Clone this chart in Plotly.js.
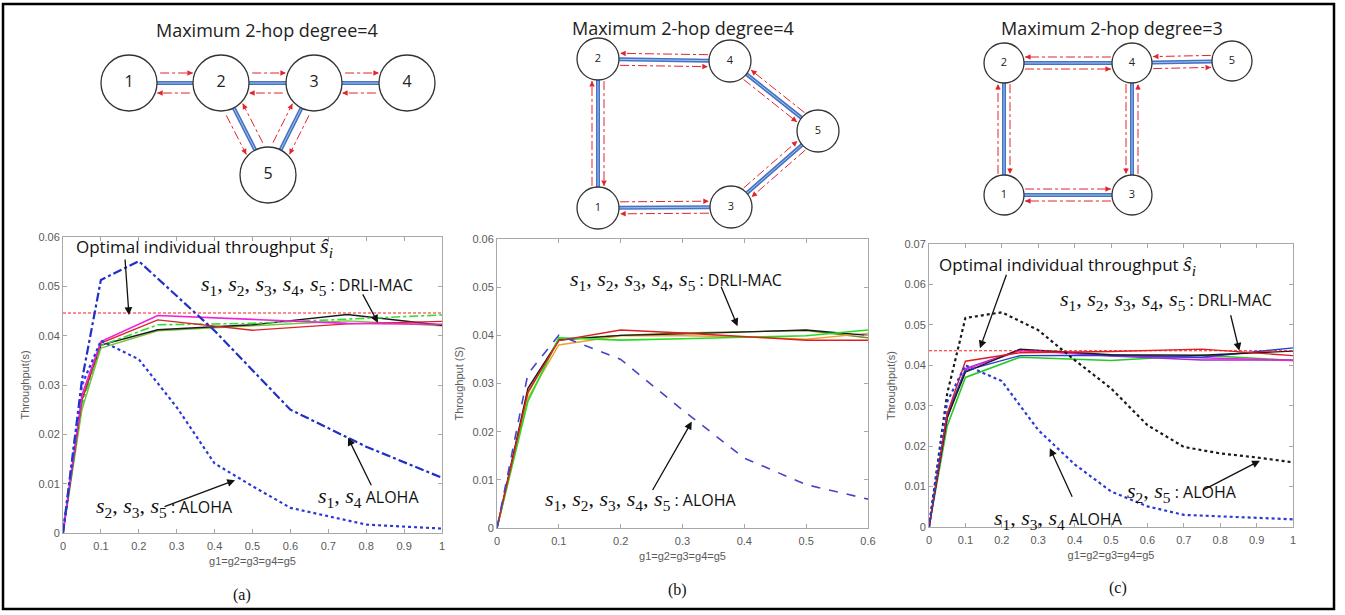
<!DOCTYPE html>
<html><head><meta charset="utf-8">
<script src="https://cdn.plot.ly/plotly-3.0.1.min.js"></script>
<style>html,body{margin:0;padding:0;background:#fff}</style>
</head><body><div id="chart" style="width:1345px;height:615px"></div>
<script>
// ================= DATA =================
// ---- Panel (a) ----
const a_alohaS14_x = [0, 0.05, 0.1, 0.2, 0.4, 0.6, 0.8, 1];
const a_alohaS14_y = [0, 0.031, 0.0513, 0.0551, 0.041, 0.025, 0.0175, 0.0112];
const a_alohaS235_x = [0, 0.05, 0.1, 0.2, 0.3, 0.4, 0.5, 0.6, 0.8, 1];
const a_alohaS235_y = [0, 0.030, 0.039, 0.0352, 0.0255, 0.0141, 0.0095, 0.0051, 0.0017, 0.0009];
const a_drli_x = [0, 0.05, 0.1, 0.25, 0.5, 0.75, 1];
const a_drli_magenta = [0, 0.028, 0.0388, 0.0441, 0.0433, 0.0425, 0.0423];
const a_drli_red     = [0, 0.027, 0.0385, 0.0432, 0.0411, 0.0424, 0.0429];
const a_drli_greenDD = [0, 0.026, 0.0380, 0.0422, 0.0425, 0.0433, 0.0442];
const a_drli_black   = [0, 0.027, 0.0381, 0.0412, 0.0422, 0.0443, 0.0421];
const a_drli_olive   = [0, 0.025, 0.0375, 0.0410, 0.0420, 0.0430, 0.0420];
const a_optimal = 0.0446;

// ---- Panel (b) ----
const b_aloha_x = [0, 0.05, 0.1, 0.2, 0.3, 0.4, 0.5, 0.6];
const b_aloha_y = [0, 0.032, 0.040, 0.035, 0.0245, 0.0145, 0.009, 0.006];
const b_drli_x = [0, 0.05, 0.1, 0.2, 0.3, 0.4, 0.5, 0.6];
const b_drli_red    = [0, 0.0283, 0.0389, 0.0411, 0.0405, 0.0398, 0.0390, 0.0390];
const b_drli_black  = [0, 0.0290, 0.0390, 0.0400, 0.0403, 0.0407, 0.0411, 0.0400];
const b_drli_green  = [0, 0.0263, 0.0395, 0.0390, 0.0393, 0.0396, 0.0399, 0.0411];
const b_drli_orange = [0, 0.0270, 0.0380, 0.0399, 0.0399, 0.0397, 0.0392, 0.0404];
const b_drli_olive  = [0, 0.0280, 0.0392, 0.0400, 0.0405, 0.0408, 0.0410, 0.0395];

// ---- Panel (c) ----
const c_aloha_x = [0, 0.05, 0.1, 0.2, 0.3, 0.4, 0.5, 0.6, 0.7, 0.8, 0.9, 1];
const c_alohaS25_y  = [0, 0.033, 0.0517, 0.0531, 0.0487, 0.0413, 0.0343, 0.0252, 0.0198, 0.0182, 0.0172, 0.016];
const c_alohaS134_y = [0, 0.031, 0.040, 0.0361, 0.024, 0.0155, 0.0088, 0.0051, 0.003, 0.0026, 0.0022, 0.0019];
const c_drli_x = [0, 0.05, 0.1, 0.25, 0.5, 0.75, 1];
const c_drli_red     = [0, 0.028, 0.0410, 0.0431, 0.0434, 0.0440, 0.0424];
const c_drli_magenta = [0, 0.027, 0.0390, 0.0436, 0.0425, 0.0418, 0.0412];
const c_drli_black   = [0, 0.027, 0.0383, 0.0440, 0.0426, 0.0425, 0.0435];
const c_drli_green   = [0, 0.025, 0.0370, 0.0420, 0.0412, 0.0425, 0.0412];
const c_drli_blue    = [0, 0.028, 0.0387, 0.0424, 0.0425, 0.0420, 0.0443];
const c_drli_purple  = [0, 0.027, 0.0392, 0.0438, 0.0423, 0.0413, 0.0413];
const c_optimal = 0.0436;

// ---- Tick labels / texts ----
const xTitle = 'g1=g2=g3=g4=g5';
const yTitleA = 'Throughput(s)', yTitleB = 'Throughput (S)', yTitleC = 'Throughput(s)';
const diagTitles = ['Maximum 2-hop degree=4', 'Maximum 2-hop degree=4', 'Maximum 2-hop degree=3'];
const panelLabels = ['(a)', '(b)', '(c)'];

// ---- Network diagrams (node ids, node centres in page pixels, links [u,v,side]) ----
const dA_ids = [1, 2, 3, 4, 5];
const dA_x = [129, 221, 314, 407, 268];
const dA_y = [83, 83, 83, 83, 175];
const dA_links = [[1,2,1],[2,3,1],[3,4,1],[2,5,-1],[3,5,1]];
const dB_ids = [1, 2, 3, 4, 5];
const dB_x = [598, 598, 731, 730, 818];
const dB_y = [208, 59, 207, 61, 131];
const dB_links = [[2,4,-1],[2,1,1],[1,3,1],[4,5,-1],[3,5,1]];
const dC_ids = [1, 2, 3, 4, 5];
const dC_x = [1004, 1004, 1132, 1132, 1232];
const dC_y = [195, 63, 195, 63, 61];
const dC_links = [[2,4,-1],[4,5,-1],[2,1,1],[1,3,1],[4,3,-1]];

// ================= BUILD =================
const W = 1345, H = 615;
const traces = [];
const annotations = [];

function line(x, y, color, width, dash, xa, ya) {
  traces.push({type:'scatter', mode:'lines', x, y, xaxis:xa, yaxis:ya,
    line:{color, width, dash: dash || 'solid'}, hoverinfo:'skip', cliponaxis:true});
}
// (a)
line(a_drli_x, a_drli_olive,   '#7fbf3f', 1.4, 'solid', 'x', 'y');
line(a_drli_x, a_drli_black,   '#1a1a1a', 1.4, 'solid', 'x', 'y');
line(a_drli_x, a_drli_greenDD, '#33dd33', 1.6, 'dashdot', 'x', 'y');
line(a_drli_x, a_drli_red,     '#d62828', 1.4, 'solid', 'x', 'y');
line(a_drli_x, a_drli_magenta, '#ee22dd', 1.6, 'solid', 'x', 'y');
line([0, 1], [a_optimal, a_optimal], '#ff1a1a', 1.1, '3px,2px', 'x', 'y');
line(a_alohaS14_x, a_alohaS14_y, '#1f2fc8', 2.2, 'dashdot', 'x', 'y');
line(a_alohaS235_x, a_alohaS235_y, '#2a3ad6', 2.2, 'dot', 'x', 'y');
// (b)
line(b_drli_x, b_drli_olive,  '#6b8e23', 1.4, 'solid', 'x2', 'y2');
line(b_drli_x, b_drli_orange, '#f0a030', 1.4, 'solid', 'x2', 'y2');
line(b_drli_x, b_drli_black,  '#1a1a1a', 1.4, 'solid', 'x2', 'y2');
line(b_drli_x, b_drli_green,  '#22dd22', 1.6, 'solid', 'x2', 'y2');
line(b_drli_x, b_drli_red,    '#dd1f1f', 1.5, 'solid', 'x2', 'y2');
line(b_aloha_x, b_aloha_y, '#4545c8', 1.6, 'dash', 'x2', 'y2');
// (c)
line(c_drli_x, c_drli_green,   '#22cc22', 1.6, 'solid', 'x3', 'y3');
line(c_drli_x, c_drli_purple,  '#9933cc', 1.4, 'solid', 'x3', 'y3');
line(c_drli_x, c_drli_magenta, '#ee22dd', 1.4, 'solid', 'x3', 'y3');
line(c_drli_x, c_drli_blue,    '#2a3ad6', 1.4, 'solid', 'x3', 'y3');
line(c_drli_x, c_drli_black,   '#1a1a1a', 1.4, 'solid', 'x3', 'y3');
line(c_drli_x, c_drli_red,     '#dd1f1f', 1.4, 'solid', 'x3', 'y3');
line([0, 1], [c_optimal, c_optimal], '#ff1a1a', 1.1, '3px,2px', 'x3', 'y3');
line(c_aloha_x, c_alohaS25_y,  '#1a1a1a', 2.2, 'dot', 'x3', 'y3');
line(c_aloha_x, c_alohaS134_y, '#2a3ad6', 2.2, 'dot', 'x3', 'y3');

// ---- diagrams ----
function diagram(ids, xs, ys, links, r, off, gapS, gapE, fontSize) {
  const pos = {};
  ids.forEach((id, i) => pos[id] = [xs[i], ys[i]]);
  const bx = [], by = [], rx = [], ry = [];
  links.forEach(([u, v, s]) => {
    const [ux, uy] = pos[u], [vx, vy] = pos[v];
    const L = Math.hypot(vx - ux, vy - uy);
    const dx = (vx - ux) / L, dy = (vy - uy) / L;
    const nx = dy, ny = -dx;
    bx.push(ux + dx * r, vx - dx * r, null);
    by.push(uy + dy * r, vy - dy * r, null);
    const rr = Math.sqrt(r * r - off * off);
    [[u, v, s, dx, dy], [v, u, -s, -dx, -dy]].forEach(([p, q, side, ex, ey]) => {
      const [px, py] = pos[p], [qx, qy] = pos[q];
      const ox = nx * off * side, oy = ny * off * side;
      const sx = px + ex * (rr + gapS) + ox, sy = py + ey * (rr + gapS) + oy;
      const tx = qx - ex * (rr + gapE) + ox, ty = qy - ey * (rr + gapE) + oy;
      rx.push(sx, tx, null); ry.push(sy, ty, null);
      annotations.push({xref:'x4', yref:'y4', axref:'x4', ayref:'y4', x:tx, y:ty,
        ax:tx - ex * 5, ay:ty - ey * 5, text:'', showarrow:true, arrowhead:2,
        arrowsize:1.1, arrowwidth:1, arrowcolor:'#e3242b', standoff:0});
    });
  });
  traces.push({type:'scatter', mode:'lines', x:bx, y:by, xaxis:'x4', yaxis:'y4',
    line:{color:'#4472c4', width:4}, hoverinfo:'skip', cliponaxis:false});
  traces.push({type:'scatter', mode:'lines', x:bx, y:by, xaxis:'x4', yaxis:'y4',
    line:{color:'#a9c3ea', width:1}, hoverinfo:'skip', cliponaxis:false});
  traces.push({type:'scatter', mode:'lines', x:rx, y:ry, xaxis:'x4', yaxis:'y4',
    line:{color:'#e3242b', width:1, dash:'dashdot'}, hoverinfo:'skip', cliponaxis:false});
  traces.push({type:'scatter', mode:'markers+text', x:xs, y:ys, text:ids.map(String),
    xaxis:'x4', yaxis:'y4', textposition:'middle center',
    textfont:{family:'Open Sans, Noto Sans', size:fontSize, color:'#222'},
    marker:{symbol:'circle', size:2 * r, color:'#ffffff', line:{color:'#333333', width:1.3}},
    hoverinfo:'skip', cliponaxis:false});
}
diagram(dA_ids, dA_x, dA_y, dA_links, 28, 10, 5, 2, 16);
diagram(dB_ids, dB_x, dB_y, dB_links, 21, 6, 2, 2, 11);
diagram(dC_ids, dC_x, dC_y, dC_links, 20, 6, 2, 2, 11);

// ---- axes ----
const tickFont = {family:'Liberation Sans, Arial', size:11, color:'#5a5a5a'};
const titleFont = {family:'Liberation Sans, Arial', size:11, color:'#5a5a5a'};
function xa(domain, range, anchor) {
  return {domain, range, anchor, dtick:0.1, tick0:0, showgrid:false, zeroline:false,
    showline:true, mirror:'ticks', linecolor:'#a8a8a8', linewidth:1, ticks:'inside', ticklen:4,
    tickcolor:'#a8a8a8', tickfont:tickFont, ticklabelstandoff:3,
    title:{text:xTitle, font:titleFont, standoff:6}, fixedrange:true};
}
function ya(domain, range, dtick, anchor, title) {
  return {domain, range, anchor, dtick, tick0:0, showgrid:false, zeroline:false,
    showline:true, mirror:'ticks', linecolor:'#a8a8a8', linewidth:1, ticks:'inside', ticklen:4,
    tickcolor:'#a8a8a8', tickfont:tickFont, title:{text:title, font:titleFont, standoff:6}, fixedrange:true};
}
const px = v => v / W, py = v => 1 - v / H;

// ---- annotations (texts & pointers) ----
const txtFont = {family:'Open Sans, Noto Sans', size:16, color:'#111'};
const bigFont = {family:'Open Sans, Noto Sans', size:17, color:'#111'};
const S = i => `<i>s</i><sub>${i}</sub>`;
const math = inner => `<span style="font-family:'Liberation Serif';font-size:22px">${inner}</span>`;
const shat = `<span style="font-family:'Liberation Serif';font-size:22px"><i>ŝ</i><sub><i>i</i></sub></span>`;
function label(xref, yref, x, y, text, font) {
  annotations.push({xref, yref, x, y, text, showarrow:false, xanchor:'left', yanchor:'middle', font:font || txtFont});
}
function pointer(xref, yref, x, y, ax, ay) {
  annotations.push({xref, yref, x, y, ax, ay, text:'', showarrow:true, arrowhead:2,
    arrowsize:1.2, arrowwidth:1.3, arrowcolor:'#111', standoff:0});
}
// (a)
label('x', 'y', 0.029, 0.0580, 'Optimal individual throughput ' + shat, bigFont);
label('x', 'y', 0.359, 0.0503, math([1,2,3,4,5].map(S).join(', ')) + ' : DRLI-MAC');
label('x', 'y', 0.082, 0.0053, math([2,3,5].map(S).join(', ')) + ' : ALOHA');
label('x', 'y', 0.668, 0.0073, math([1,4].map(S).join(', ')) + ' ALOHA');
pointer('x', 'y', 0.174, 0.0442, -4, -57);
pointer('x', 'y', 0.831, 0.0426, -16, -30);
pointer('x', 'y', 0.752, 0.0193, 24, 49);
pointer('x', 'y', 0.454, 0.0107, -72, 27);
// (b)
label('x2', 'y2', 0.1154, 0.0515, math([1,2,3,4,5].map(S).join(', ')) + ' : DRLI-MAC');
label('x2', 'y2', 0.074, 0.0058, math([1,2,3,4,5].map(S).join(', ')) + ' : ALOHA');
pointer('x2', 'y2', 0.389, 0.0419, -17, -41);
pointer('x2', 'y2', 0.315, 0.0221, -40, 70);
// (c)
label('x3', 'y3', 0.021, 0.0648, 'Optimal individual throughput ' + shat, bigFont);
label('x3', 'y3', 0.355, 0.0561, math([1,2,3,4,5].map(S).join(', ')) + ' : DRLI-MAC');
label('x3', 'y3', 0.538, 0.0087, math([2,5].map(S).join(', ')) + ' : ALOHA');
label('x3', 'y3', 0.172, 0.0021, math([1,3,4].map(S).join(', ')) + ' ALOHA');
pointer('x3', 'y3', 0.140, 0.0442, 27, -75);
pointer('x3', 'y3', 0.8525, 0.0436, -9, -37);
pointer('x3', 'y3', 0.909, 0.0164, -58, 30);
pointer('x3', 'y3', 0.332, 0.0195, 23, 50);

// diagram titles & panel labels
const titlePos = [[267, 30], [683, 28], [1112, 28]];
diagTitles.forEach((t, i) => annotations.push({xref:'paper', yref:'paper', x:px(titlePos[i][0]), y:py(titlePos[i][1]),
  text:t, showarrow:false, xanchor:'center', yanchor:'middle', font:{family:'Open Sans, Noto Sans', size:18, color:'#222'}}));
const labPos = [[242, 595], [677, 590], [1118, 588]];
panelLabels.forEach((t, i) => annotations.push({xref:'paper', yref:'paper', x:px(labPos[i][0]), y:py(labPos[i][1]),
  text:t, showarrow:false, xanchor:'center', yanchor:'middle', font:{family:'Liberation Serif, Times New Roman', size:16, color:'#111'}}));

const layout = {
  width:W, height:H, margin:{l:0, r:0, t:0, b:0}, paper_bgcolor:'#ffffff', plot_bgcolor:'rgba(0,0,0,0)',
  showlegend:false,
  xaxis: xa([px(63), px(442)], [0, 1], 'y'),
  yaxis: ya([py(533), py(237)], [0, 0.06], 0.01, 'x', yTitleA),
  xaxis2: xa([px(497), px(868)], [0, 0.6], 'y2'),
  yaxis2: ya([py(528), py(239)], [0, 0.06], 0.01, 'x2', yTitleB),
  xaxis3: xa([px(929), px(1293)], [0, 1], 'y3'),
  yaxis3: ya([py(527), py(244)], [0, 0.07], 0.01, 'x3', yTitleC),
  xaxis4: {domain:[0, 1], range:[0, W], visible:false, anchor:'y4', fixedrange:true},
  yaxis4: {domain:[0, 1], range:[H, 0], visible:false, anchor:'x4', fixedrange:true},
  shapes: [{type:'rect', xref:'paper', yref:'paper', x0:px(3), x1:px(1334), y0:py(609), y1:py(4),
    line:{color:'#000', width:2.5}, fillcolor:'rgba(0,0,0,0)'}],
  annotations
};
Plotly.newPlot('chart', traces, layout, {staticPlot:true, displayModeBar:false});
</script></body></html>
